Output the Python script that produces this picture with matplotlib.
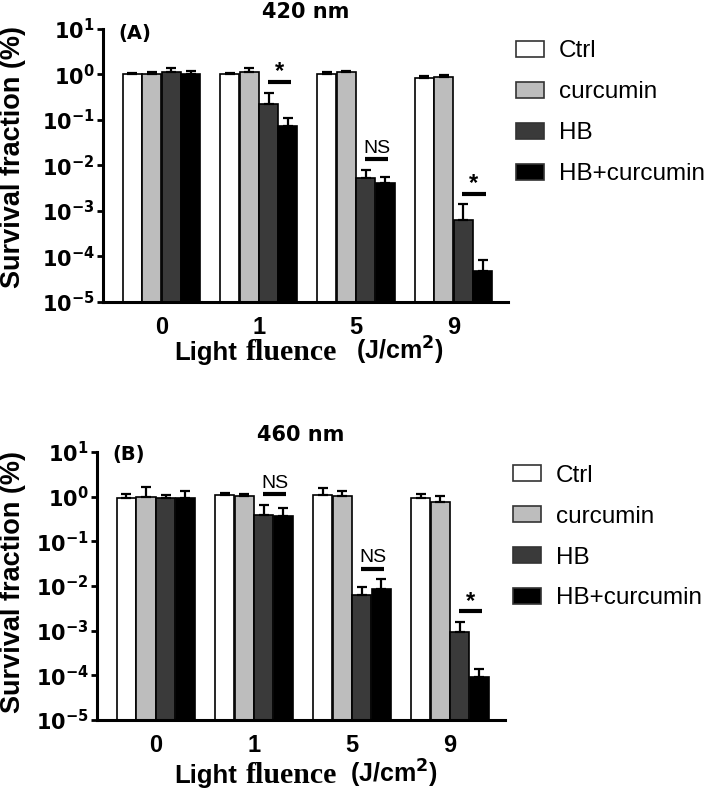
import numpy as np
import matplotlib
matplotlib.use('Agg')
import matplotlib.pyplot as plt
from matplotlib.patches import Patch
from matplotlib.ticker import FixedLocator, NullLocator

plt.rcParams['font.family'] = ['Liberation Sans', 'DejaVu Sans']
plt.rcParams['mathtext.fontset'] = 'dejavusans'

fluence = ['0', '1', '5', '9']
groups = ['Ctrl', 'curcumin', 'HB', 'HB+curcumin']

# panel A, 420 nm  (mean, upper end of error bar)
ctrl_a = [1.00, 1.03, 1.03, 0.85]
ctrl_a_top = [1.09, 1.10, 1.12, 0.95]
cur_a = [1.03, 1.13, 1.12, 0.90]
cur_a_top = [1.14, 1.38, 1.18, 0.96]
hb_a = [1.13, 0.23, 0.0053, 0.00065]
hb_a_top = [1.38, 0.40, 0.008, 0.0014]
hbc_a = [1.03, 0.072, 0.0042, 4.7e-5]
hbc_a_top = [1.20, 0.11, 0.0055, 8.5e-5]
sig_a = ['', '*', 'NS', '*']

# panel B, 460 nm
ctrl_b = [0.95, 1.09, 1.09, 0.95]
ctrl_b_top = [1.13, 1.19, 1.56, 1.15]
cur_b = [0.98, 1.05, 1.05, 0.75]
cur_b_top = [1.67, 1.17, 1.36, 1.05]
hb_b = [0.92, 0.39, 0.0063, 0.00091]
hb_b_top = [1.09, 0.66, 0.0093, 0.0016]
hbc_b = [0.95, 0.37, 0.0085, 9.1e-5]
hbc_b_top = [1.36, 0.56, 0.014, 1.4e-4]
sig_b = ['', 'NS', 'NS', '*']

colors = ['white', '#bdbdbd', '#3a3a3a', 'black']
offsets = [-0.3, -0.1, 0.1, 0.3]
width = 0.195
W, H = 709, 800


def draw_panel(ax, means, tops, sig, title, tag, tag_y, leg_y):
    x = np.arange(len(fluence))
    for i in range(4):
        m = np.array(means[i])
        t = np.array(tops[i])
        ax.bar(x + offsets[i], m, width, color=colors[i], edgecolor='black',
               linewidth=1.2, zorder=2)
        ax.errorbar(x + offsets[i], m, yerr=[np.zeros_like(m), t - m], fmt='none',
                    ecolor='black', elinewidth=1.6, capsize=3.5, capthick=1.6, zorder=3)
    # significance between HB and HB+curcumin
    for k, s in enumerate(sig):
        if not s:
            continue
        y = max(tops[2][k], tops[3][k]) * 1.7
        ax.plot([k + 0.09, k + 0.33], [y, y], color='black', lw=3, solid_capstyle='butt', zorder=4)
        if s == '*':
            ax.annotate(s, (k + 0.21, y), xytext=(0, -1), textcoords='offset points',
                        ha='center', va='bottom', fontsize=17, fontweight='bold')
        else:
            ax.annotate(s, (k + 0.21, y), xytext=(0, 2), textcoords='offset points',
                        ha='center', va='bottom', fontsize=14)

    ax.set_yscale('log')
    ax.set_ylim(1e-5, 10)
    ax.set_xlim(-0.6, 3.56)
    ax.yaxis.set_major_locator(FixedLocator([10.0 ** p for p in range(-5, 2)]))
    ax.yaxis.set_minor_locator(NullLocator())
    ax.set_yticklabels([r'$\mathbf{10^{%d}}$' % p for p in range(-5, 2)], fontsize=15)
    ax.set_xticks(np.arange(len(fluence)))
    ax.set_xticklabels(fluence, fontsize=17, fontweight='bold')
    ax.tick_params(axis='x', length=0, pad=10)
    ax.tick_params(axis='y', length=4, width=2, pad=2)
    for side in ['top', 'right']:
        ax.spines[side].set_visible(False)
    for side in ['left', 'bottom']:
        ax.spines[side].set_linewidth(2.2)

    ax.text(0.5, 1.062, title, transform=ax.transAxes, ha='center', va='center',
            fontsize=15, fontweight='bold', family='DejaVu Sans')
    ax.text(0.037, tag_y, tag, transform=ax.transAxes, ha='left', va='center',
            fontsize=14, fontweight='bold', family='DejaVu Sans')

    handles = [Patch(facecolor=c, edgecolor='#333333', linewidth=1.2) for c in colors]
    ax.legend(handles, groups, loc='upper left', bbox_to_anchor=(1.02, leg_y),
              frameon=False, fontsize=17.5, handlelength=1.15, handleheight=0.65,
              handletextpad=0.6, labelspacing=0.78, borderaxespad=0, borderpad=0)


fig = plt.figure(figsize=(W / 100, H / 100), dpi=100)
ax_a = fig.add_axes([103 / W, 1 - 302 / H, 405 / W, 273 / H])
ax_b = fig.add_axes([97 / W, 1 - 720 / H, 408 / W, 268 / H])

draw_panel(ax_a, [ctrl_a, cur_a, hb_a, hbc_a], [ctrl_a_top, cur_a_top, hb_a_top, hbc_a_top],
           sig_a, '420 nm', '(A)', 0.985, 0.958)
draw_panel(ax_b, [ctrl_b, cur_b, hb_b, hbc_b], [ctrl_b_top, cur_b_top, hb_b_top, hbc_b_top],
           sig_b, '460 nm', '(B)', 0.99, 0.953)

# y labels and x labels (x label mixes a serif word into the sans text)
for ycen, base, x_paren in [(157, 360, 356), (582, 783, 350)]:
    fig.text(13 / W, 1 - ycen / H, 'Survival fraction (%)', rotation=90,
             ha='center', va='center', fontsize=19.5, fontweight='bold')
    fig.text(174 / W, 1 - base / H, 'Light', ha='left', va='baseline',
             fontsize=18.5, fontweight='bold')
    fig.text(246 / W, 1 - base / H, 'fluence', ha='left', va='baseline',
             fontsize=21.5, fontweight='bold', family='Liberation Serif')
    fig.text(x_paren / W, 1 - base / H, r'(J/cm$^{\mathbf{2}}$)', ha='left', va='baseline',
             fontsize=18, fontweight='bold')

fig.savefig('out.png', dpi=100)
